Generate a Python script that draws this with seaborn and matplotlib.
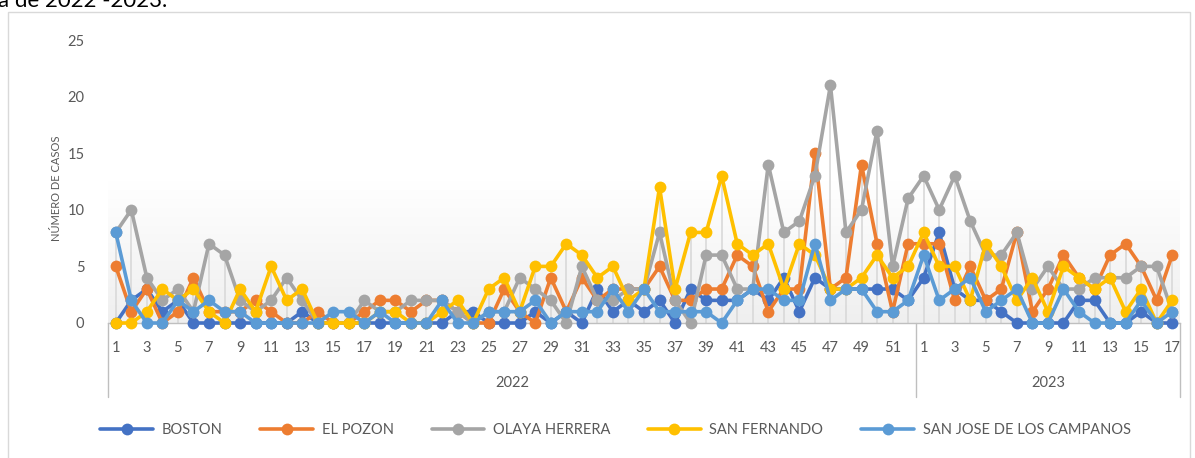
import numpy as np
import pandas as pd
import matplotlib
matplotlib.use("Agg")
import matplotlib.pyplot as plt
import seaborn as sns
from matplotlib.lines import Line2D
from matplotlib.patches import Rectangle
from matplotlib.colors import LinearSegmentedColormap
from matplotlib.transforms import blended_transform_factory

# ---------------- data ----------------
weeks_2022 = list(range(1, 53))
weeks_2023 = list(range(1, 18))
years = ["2022", "2023"]
series_names = ["BOSTON", "EL POZON", "OLAYA HERRERA", "SAN FERNANDO", "SAN JOSE DE LOS CAMPANOS"]

boston = [0, 2, 3, 1, 2, 0, 0, 0, 0, 0, 0, 0, 1, 0, 0, 0, 0, 0, 0, 0, 0, 0, 1, 1, 0, 0,
          0, 1, 0, 1, 0, 3, 1, 2, 1, 2, 0, 3, 2, 2, 2, 3, 2, 4, 1, 4, 3, 3, 3, 3, 3, 2,
          4, 8, 3, 2, 2, 1, 0, 0, 0, 0, 2, 2, 0, 0, 1, 0, 0]
el_pozon = [5, 1, 3, 0, 1, 4, 1, 1, 1, 2, 1, 0, 0, 1, 0, 0, 1, 2, 2, 1, 2, 2, 1, 0, 0, 3,
            1, 0, 4, 1, 4, 2, 3, 3, 3, 5, 2, 2, 3, 3, 6, 5, 1, 3, 3, 15, 3, 4, 14, 7, 1, 7,
            7, 7, 2, 5, 2, 3, 8, 1, 3, 6, 4, 3, 6, 7, 5, 2, 6]
olaya_herrera = [8, 10, 4, 2, 3, 1, 7, 6, 2, 1, 2, 4, 2, 0, 0, 0, 2, 1, 1, 2, 2, 2, 1, 0, 1, 1,
                 4, 3, 2, 0, 5, 2, 2, 3, 3, 8, 2, 0, 6, 6, 3, 3, 14, 8, 9, 13, 21, 8, 10, 17, 5, 11,
                 13, 10, 13, 9, 6, 6, 8, 3, 5, 3, 3, 4, 4, 4, 5, 5, 1]
san_fernando = [0, 0, 1, 3, 2, 3, 1, 0, 3, 1, 5, 2, 3, 0, 0, 0, 0, 1, 1, 0, 0, 1, 2, 0, 3, 4,
                1, 5, 5, 7, 6, 4, 5, 2, 3, 12, 3, 8, 8, 13, 7, 6, 7, 3, 7, 6, 3, 3, 4, 6, 4, 5,
                8, 5, 5, 2, 7, 5, 2, 4, 1, 5, 4, 3, 4, 1, 3, 0, 2]
san_jose = [8, 2, 0, 0, 2, 1, 2, 1, 1, 0, 0, 0, 0, 0, 1, 1, 0, 1, 0, 0, 0, 2, 0, 0, 1, 1,
            1, 2, 0, 1, 1, 1, 3, 1, 3, 1, 1, 1, 1, 0, 2, 3, 3, 2, 2, 7, 2, 3, 3, 1, 1, 2,
            6, 2, 3, 4, 1, 2, 3, 0, 0, 3, 1, 0, 0, 0, 2, 0, 1]

colors = ["#4472C4", "#ED7D31", "#A5A5A5", "#FFC000", "#5B9BD5"]
all_series = [boston, el_pozon, olaya_herrera, san_fernando, san_jose]

week_labels = [str(w) if w % 2 == 1 else "" for w in weeks_2022 + weeks_2023]
n = len(week_labels)
x = np.arange(n)

rows = []
for name, vals in zip(series_names, all_series):
    for i, v in enumerate(vals):
        rows.append({"idx": i, "casos": v, "barrio": name})
df = pd.DataFrame(rows)

# ---------------- style ----------------
sns.set_theme(style="white")
plt.rcParams["font.family"] = ["Lato", "DejaVu Sans"]
txt = "#595959"

W, H = 1195, 458
fig = plt.figure(figsize=(W / 100, H / 100), dpi=100)
ax = fig.add_axes([108 / W, 1 - 323 / H, 1072 / W, 283 / H])

# gradient background of plot area
cmap = LinearSegmentedColormap.from_list("g", ["#ffffff", "#ffffff", "#efefef"])
grad = np.linspace(0, 1, 256).reshape(-1, 1)
ax.imshow(grad, extent=(-0.5, n - 0.5, 0, 25), aspect="auto", cmap=cmap,
          origin="upper", zorder=0)

# drop lines
maxvals = df.groupby("idx")["casos"].max().reindex(x).values
ax.vlines(x, 0, maxvals, color="#d9d9d9", lw=1.2, zorder=1)

for k, (name, col) in enumerate(zip(series_names, colors)):
    sub = df[df["barrio"] == name]
    sns.lineplot(data=sub, x="idx", y="casos", ax=ax, color=col, marker="o",
                 markersize=8.5, linewidth=2.6, markeredgewidth=0, estimator=None,
                 sort=False, legend=False, clip_on=False, zorder=3 + k)

ax.set_xlim(-0.5, n - 0.5)
ax.set_ylim(0, 25)
for s in ["top", "right", "left"]:
    ax.spines[s].set_visible(False)
ax.spines["bottom"].set_color("#bfbfbf")
ax.spines["bottom"].set_linewidth(1)
ax.spines["bottom"].set_zorder(2)

ax.set_yticks([0, 5, 10, 15, 20, 25])
ax.tick_params(axis="y", length=0, pad=17, labelsize=10.5, labelcolor=txt)
ax.set_xticks(x)
ax.set_xticklabels(week_labels)
ax.tick_params(axis="x", length=0, pad=13, labelsize=10.5, labelcolor=txt)
ax.set_xlabel("")
ax.set_ylabel("")
ax.grid(False)

# year level labels and separators
tr = blended_transform_factory(ax.transData, fig.transFigure)
ax.text((0 + 51) / 2, 1 - 383 / H, years[0], transform=tr, ha="center", va="center",
        fontsize=10.5, color=txt)
ax.text((52 + 68) / 2, 1 - 383 / H, years[1], transform=tr, ha="center", va="center",
        fontsize=10.5, color=txt)
for xs in [-0.5, 51.5, n - 0.5]:
    fig.add_artist(Line2D([xs, xs], [1 - 323 / H, 1 - 397 / H], transform=tr,
                          color="#bfbfbf", lw=1))

fig.text(56 / W, 1 - 188 / H, "NÚMERO DE CASOS", rotation=90, ha="center", va="center",
         fontsize=8, color=txt)

# legend
handles = [Line2D([0], [0], color=c, lw=2.6, marker="o", markersize=8.5, markeredgewidth=0)
           for c in colors]
leg = fig.legend(handles, series_names, loc="center", bbox_to_anchor=(0.515, 1 - 430 / H),
                 ncol=5, frameon=False, handlelength=3.6, columnspacing=2.6,
                 handletextpad=0.6, fontsize=10.5)
for t in leg.get_texts():
    t.set_color(txt)

# chart border and cut-off document text above
fig.add_artist(Rectangle((8 / W, -0.01), (1190 - 8) / W, 1 - 12 / H + 0.01,
                         transform=fig.transFigure, fill=False, edgecolor="#d9d9d9", lw=1))
fig.text(-2 / W, 1 - 7 / H, "a de 2022 -2023.", ha="left", va="baseline",
         fontsize=16, color="black")

fig.savefig("out.png", dpi=100)
